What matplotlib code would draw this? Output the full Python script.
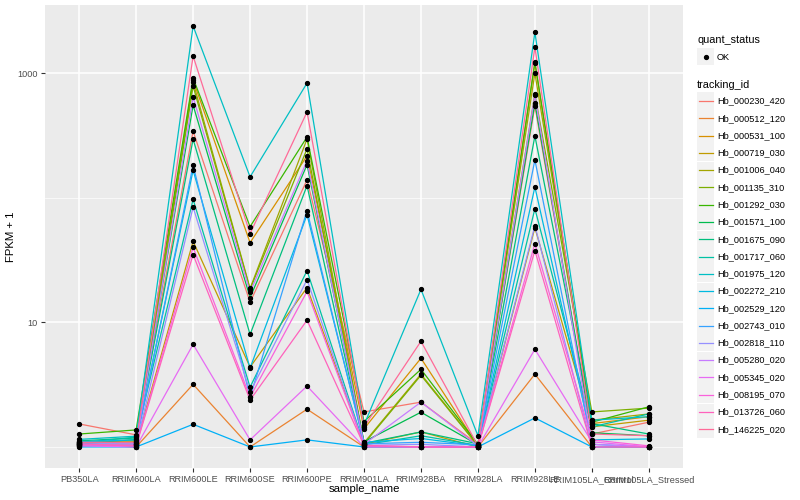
import numpy as np
import matplotlib
matplotlib.use("Agg")
import matplotlib.pyplot as plt
from matplotlib.patches import Rectangle
from matplotlib.lines import Line2D

plt.rcParams['font.family'] = ['Liberation Sans', 'DejaVu Sans']

# data ---------------------------------------------
samples = ["PB350LA", "RRIM600LA", "RRIM600LE", "RRIM600SE", "RRIM600PE",
           "RRIM901LA", "RRIM928BA", "RRIM928LA", "RRIM928LE",
           "RRIM105LA_Control", "RRIM105LA_Stressed"]

tracking_ids = ["Hb_000230_420", "Hb_000512_120", "Hb_000531_100", "Hb_000719_030",
                "Hb_001006_040", "Hb_001135_310", "Hb_001292_030", "Hb_001571_100",
                "Hb_001675_090", "Hb_001717_060", "Hb_001975_120", "Hb_002272_210",
                "Hb_002529_120", "Hb_002743_010", "Hb_002818_110", "Hb_005280_020",
                "Hb_005345_020", "Hb_008195_070", "Hb_013726_060", "Hb_146225_020"]

# FPKM + 1 per tracking_id, in sample order
fpkm1 = {
    "Hb_000230_420": [1.53, 1.25, 342, 14.5, 139, 1.91, 2.29, 1.05, 545, 1.27, 1.58],
    "Hb_000512_120": [1.05, 1.00, 3.18, 1.00, 2.01, 1.00, 1.00, 1.00, 3.84, 1.00, 1.00],
    "Hb_000531_100": [1.08, 1.10, 878, 43.6, 217, 1.40, 5.15, 1.02, 1202, 1.54, 1.75],
    "Hb_000719_030": [1.02, 1.05, 44.7, 4.37, 19.0, 1.05, 1.32, 1.00, 57.5, 1.45, 1.64],
    "Hb_001006_040": [1.10, 1.12, 847, 18.7, 296, 1.08, 3.84, 1.03, 1000, 1.64, 1.84],
    "Hb_001135_310": [1.04, 1.06, 786, 18.4, 247, 1.06, 3.76, 1.02, 679, 1.91, 2.05],
    "Hb_001292_030": [1.27, 1.37, 912, 58.6, 307, 1.60, 4.20, 1.05, 1225, 1.58, 2.10],
    "Hb_001571_100": [1.06, 1.15, 553, 15.8, 184, 1.10, 1.90, 1.04, 575, 1.30, 1.23],
    "Hb_001675_090": [1.12, 1.18, 295, 8.0, 125, 1.07, 1.32, 1.06, 313, 1.54, 1.27],
    "Hb_001717_060": [1.08, 1.20, 97, 3.02, 26.0, 1.04, 1.23, 1.03, 81.7, 1.45, 1.84],
    "Hb_001975_120": [1.15, 1.22, 2387, 147, 832, 1.50, 18.4, 1.23, 2128, 1.64, 1.75],
    "Hb_002272_210": [1.10, 1.14, 166, 4.29, 73, 1.09, 1.17, 1.02, 122, 1.14, 1.16],
    "Hb_002529_120": [1.00, 1.00, 1.52, 1.00, 1.14, 1.00, 1.00, 1.00, 1.71, 1.00, 1.00],
    "Hb_002743_010": [1.07, 1.08, 182, 2.51, 78.7, 1.06, 1.09, 1.04, 201, 1.05, 1.00],
    "Hb_002818_110": [1.03, 1.04, 84, 2.75, 22.0, 1.03, 1.05, 1.00, 59.7, 1.00, 1.00],
    "Hb_005280_020": [1.05, 1.06, 642, 17.4, 198, 1.05, 2.29, 1.02, 667, 1.05, 1.00],
    "Hb_005345_020": [1.02, 1.00, 6.66, 1.14, 3.08, 1.00, 1.00, 1.00, 6.08, 1.10, 1.00],
    "Hb_008195_070": [1.04, 1.03, 40, 2.51, 17.7, 1.02, 1.00, 1.00, 42.9, 1.14, 1.02],
    "Hb_013726_060": [1.06, 1.02, 35, 2.38, 10.4, 1.03, 1.00, 1.00, 37.7, 1.00, 1.00],
    "Hb_146225_020": [1.09, 1.09, 1370, 51.5, 488, 1.45, 7.05, 1.02, 1614, 1.27, 1.23],
}

# ggplot hue palette ------------------------------
def hcl_to_rgb(h, c=100, l=65):
    xn, yn, zn = 95.047, 100.0, 108.883
    un = 4 * xn / (xn + 15 * yn + 3 * zn)
    vn = 9 * yn / (xn + 15 * yn + 3 * zn)
    hr = np.deg2rad(h)
    u, v = c * np.cos(hr), c * np.sin(hr)
    y = yn * ((l + 16) / 116) ** 3
    up = u / (13 * l) + un
    vp = v / (13 * l) + vn
    x = 9 * y * up / (4 * vp)
    z = -x / 3 - 5 * y + 3 * y / vp
    m = np.array([[3.240479, -1.537150, -0.498535],
                  [-0.969256, 1.875992, 0.041556],
                  [0.055648, -0.204043, 1.057311]])
    rgb = m @ (np.array([x, y, z]) / 100)
    rgb = np.where(rgb > 0.0031308, 1.055 * np.power(np.clip(rgb, 0, None), 1 / 2.4) - 0.055, 12.92 * rgb)
    return tuple(np.clip(rgb, 0, 1))

n = len(tracking_ids)
hues = np.linspace(15, 375, n + 1)[:-1]
colors = [hcl_to_rgb(h) for h in hues]

# plot --------------------------------------------
fig = plt.figure(figsize=(8, 5), dpi=100)
ax = fig.add_axes([45 / 800, 32 / 500, 638 / 800, 463 / 500])
ax.set_facecolor("#EBEBEB")

xpos = np.arange(1, len(samples) + 1)
for tid, col in zip(tracking_ids, colors):
    ax.plot(xpos, fpkm1[tid], color=col, lw=0.9, zorder=2)
for tid in tracking_ids:
    ax.plot(xpos, fpkm1[tid], 'o', color='black', ms=2.8, zorder=3)

ax.set_yscale('log')
allv = np.concatenate([fpkm1[t] for t in tracking_ids])
lo, hi = np.log10(allv.min()), np.log10(allv.max())
pad = (hi - lo) * 0.05
ax.set_ylim(10 ** (lo - pad), 10 ** (hi + pad))
ax.set_xlim(0.4, len(samples) + 0.6)

ax.set_yticks([10, 1000])
ax.set_yticklabels(["10", "1000"])
ax.set_yticks([1, 100], minor=True)
ax.yaxis.set_minor_formatter(plt.NullFormatter())
ax.set_xticks(xpos)
ax.set_xticklabels(samples)

ax.grid(True, which='major', color='white', lw=1.1, zorder=0)
ax.grid(True, which='minor', axis='y', color='white', lw=0.5, zorder=0)
ax.set_axisbelow(True)
for s in ax.spines.values():
    s.set_visible(False)
ax.tick_params(which='major', length=3, color='#333333', labelsize=6.6, labelcolor='#4D4D4D', pad=2)
ax.tick_params(which='minor', length=0)

ax.set_xlabel("sample_name", fontsize=8.2, labelpad=0)
ax.set_ylabel("FPKM + 1", fontsize=8.2, labelpad=1)

# legends --------------------------------------------
W, H = 800, 500
def fx(px): return px / W
def fy(py): return 1 - py / H

fig.text(fx(697), fy(40), "quant_status", fontsize=7.8, va='center', ha='left')
fig.add_artist(Rectangle((fx(697), fy(65)), 17 / W, 17 / H, transform=fig.transFigure,
                         facecolor='#F2F2F2', edgecolor='none'))
fig.add_artist(Line2D([fx(705.5)], [fy(56.5)], marker='o', ms=2.8, color='black',
                      transform=fig.transFigure))
fig.text(fx(717), fy(57), "OK", fontsize=6.6, va='center', ha='left')

fig.text(fx(697), fy(85), "tracking_id", fontsize=7.8, va='center', ha='left')
step = 17.28
for i, (tid, col) in enumerate(zip(tracking_ids, colors)):
    yc = 101 + i * step
    fig.add_artist(Rectangle((fx(697), fy(yc + 8.5)), 17 / W, 17 / H, transform=fig.transFigure,
                             facecolor='#F2F2F2', edgecolor='none'))
    fig.add_artist(Line2D([fx(698.5), fx(712.5)], [fy(yc), fy(yc)], color=col, lw=0.9,
                          transform=fig.transFigure))
    fig.text(fx(717), fy(yc), tid, fontsize=6.6, va='center', ha='left')

fig.savefig("out.png", dpi=100)
